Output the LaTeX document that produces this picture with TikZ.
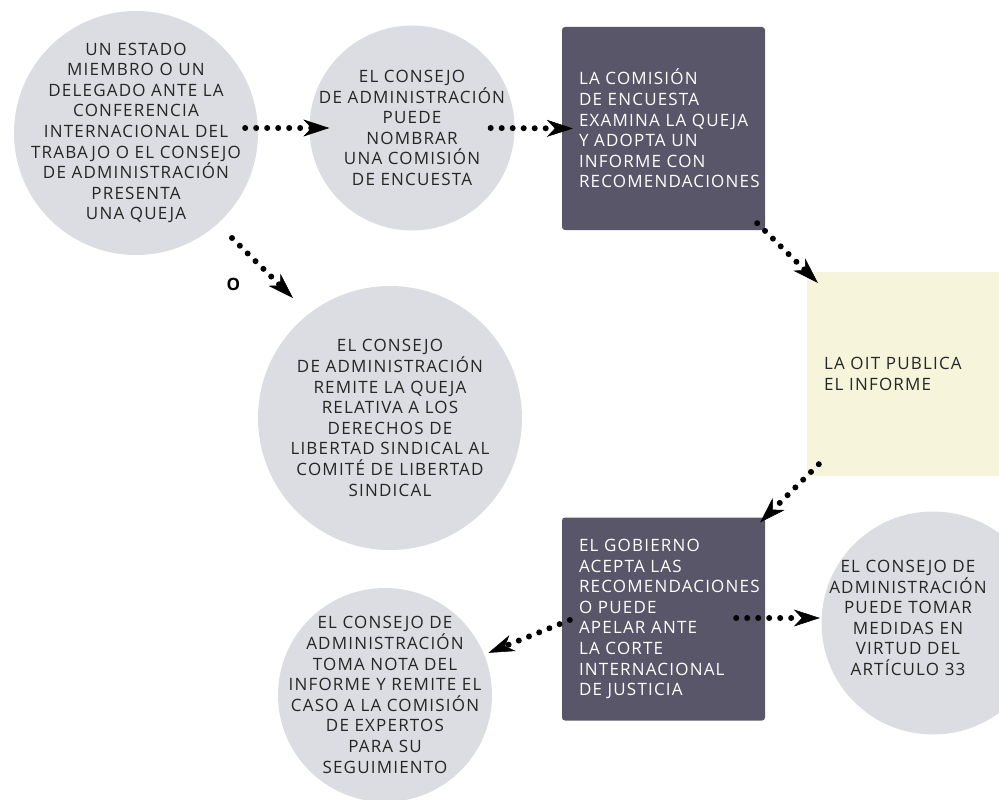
\documentclass[tikz,border=0pt]{standalone}
\usepackage{fontspec}
\setmainfont{Open Sans}[LetterSpace=7]
\usetikzlibrary{arrows.meta,positioning,calc}

\definecolor{circfill}{HTML}{DCDCE3}
\definecolor{boxfill}{HTML}{5A5669}
\definecolor{creamfill}{HTML}{F6F5DC}
\definecolor{txtgray}{HTML}{262626}

\begin{document}
\begin{tikzpicture}[
      x=1pt, y=-1pt,
      every node/.style={font=\fontsize{17}{20.6}\selectfont},
      circ/.style={circle, fill=circfill, text=txtgray, align=center, inner sep=-20pt},
      dbox/.style={rectangle, rounded corners=3pt, fill=boxfill, text=white, align=left,
                   text width=169pt, inner xsep=17pt, minimum width=203pt, minimum height=203pt},
      cbox/.style={rectangle, fill=creamfill, text=txtgray, align=left,
                   text width=169pt, inner xsep=17pt, minimum width=203pt, minimum height=204pt},
      flow/.style={->, line width=6pt, line cap=round, dash pattern=on 0pt off 11pt},
      >={Stealth[length=26pt,width=17pt,inset=8pt,line width=0.5pt]}
    ]
    \useasboundingbox (0,0) rectangle (999,800);
    \clip (0,0) rectangle (999,800);

    % top row
    \node[circ, minimum size=244pt] (queja) at (136,133)
      {UN ESTADO\\ MIEMBRO O UN\\ DELEGADO ANTE LA\\ CONFERENCIA\\ INTERNACIONAL DEL\\
       TRABAJO O EL CONSEJO\\ DE ADMINISTRACIÓN\\ PRESENTA\\ UNA QUEJA};
    \node[circ, minimum size=205pt] (nombrar) at (412,128)
      {EL CONSEJO\\ DE ADMINISTRACIÓN\\ PUEDE\\ NOMBRAR\\ UNA COMISIÓN\\ DE ENCUESTA};
    \node[dbox] (comision) at (663.5,128.5)
      {LA COMISIÓN\\ DE ENCUESTA\\ EXAMINA~LA~QUEJA\\ Y ADOPTA UN\\ INFORME CON\\ RECOMENDACIONES};

    % right column
    \node[cbox] (publica) at (908.5,374) {LA OIT PUBLICA\\ EL INFORME};
    \node[dbox] (gobierno) at (663.5,619)
      {EL GOBIERNO\\ ACEPTA LAS\\ RECOMENDACIONES\\ O PUEDE\\ APELAR ANTE\\ LA CORTE\\
       INTERNACIONAL\\ DE JUSTICIA};
    \node[circ, minimum size=223pt,
          label={[text=txtgray, align=center, shift={(-25,-5)}]center:{EL CONSEJO DE\\
            ADMINISTRACIÓN\\ PUEDE TOMAR\\ MEDIDAS EN\\ VIRTUD DEL\\ ARTÍCULO 33}}] (art33) at (933,623) {};

    % the other circles
    \node[circ, minimum size=264pt] (libertad) at (390,418)
      {EL CONSEJO\\ DE ADMINISTRACIÓN\\ REMITE LA QUEJA\\ RELATIVA A LOS\\ DERECHOS DE\\
       LIBERTAD SINDICAL AL\\ COMITÉ DE LIBERTAD\\ SINDICAL};
    \node[circ, minimum size=214pt] (expertos) at (385,695)
      {EL CONSEJO DE\\ ADMINISTRACIÓN\\ TOMA NOTA DEL\\ INFORME Y REMITE EL\\
       CASO A LA COMISIÓN\\ DE EXPERTOS\\ PARA SU\\ SEGUIMIENTO};

    % the arrows
    \draw[flow] ([shift={(-13,-5)}]queja.east) -- ([shift={(20,0)}]nombrar.west);
    \draw[flow] ([shift={(-24,0)}]nombrar.east) -- ([shift={(11,0)}]comision.west);
    \draw[flow] ([shift={(96,105)}]queja.center) -- node[shift={(-29,16)}, font=\fontsize{17}{20.6}\bfseries] (o) {O}
      ([shift={(-97,-120)}]libertad.center);
    \draw[flow] ([shift={(-8,-7)}]comision.south east) -- ([shift={(11,11)}]publica.north west);
    \draw[flow] ([shift={(12,-12)}]publica.south west) -- ([shift={(-5,5)}]gobierno.north east);
    \draw[flow] ([shift={(8,1)}]gobierno.west) -- ([shift={(4,-2)}]expertos.22);
    \draw[flow] ([shift={(-29,-1)}]gobierno.east) -- ([shift={(-1.5,-5)}]art33.west);
  \end{tikzpicture}
\end{document}
